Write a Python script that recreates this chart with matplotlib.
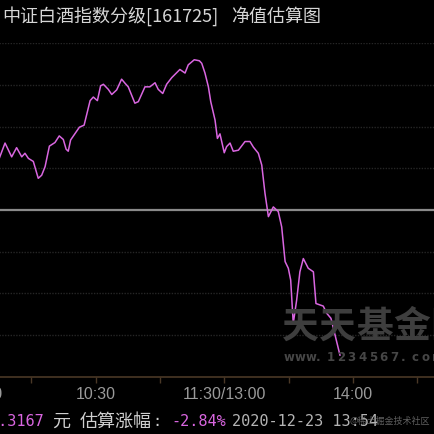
import matplotlib.pyplot as plt
import matplotlib as mpl

mpl.rcParams['font.family'] = ['Noto Sans CJK SC', 'DejaVu Sans']

# estimated change (%) vs trading minutes since 9:30 (lunch break removed)
t_min = [15.0, 17.7, 20.8, 23.1, 25.5, 27.0, 28.6, 30.9, 33.2, 34.8,
         36.4, 38.4, 41.0, 43.0, 44.9, 46.2, 47.2, 48.3, 52.4, 54.6,
         57.4, 58.9, 60.8, 62.3, 63.6, 65.9, 67.5, 69.8, 72.1, 73.7,
         75.2, 78.3, 79.9, 83.0, 85.3, 87.7, 89.2, 91.3, 93.1, 95.5,
         99.3, 101.7, 103.2, 106.0, 108.4, 109.5, 111.0, 112.6, 113.7, 115.7,
         116.8, 118.0, 120.0, 121.1, 122.7, 124.2, 126.6, 129.7, 132.0, 133.6,
         135.9, 137.5, 139.0, 140.6, 142.9, 145.2, 146.8, 148.4, 149.9, 151.0,
         152.2, 153.8, 155.3, 156.9, 159.2, 161.6, 162.8, 166.2, 167.8, 169.8,
         174.0]
pct = [1.01, 1.31, 1.04, 1.22, 1.04, 1.11, 1.01, 0.95, 0.62, 0.68,
       0.85, 1.25, 1.32, 1.45, 1.38, 1.19, 1.15, 1.37, 1.62, 1.66,
       2.14, 2.21, 2.14, 2.43, 2.46, 2.36, 2.26, 2.35, 2.56, 2.48,
       2.41, 2.09, 2.12, 2.41, 2.41, 2.49, 2.36, 2.28, 2.46, 2.59,
       2.75, 2.68, 2.84, 2.94, 2.92, 2.87, 2.68, 2.41, 2.12, 1.76,
       1.40, 1.49, 1.12, 1.24, 1.31, 1.15, 1.17, 1.34, 1.34, 1.23,
       1.11, 0.88, 0.33, -0.13, 0.06, -0.03, -0.33, -1.01, -1.14, -1.37,
       -2.22, -1.76, -1.21, -0.95, -1.14, -1.21, -1.83, -1.88, -2.02, -2.12,
       -2.84]

tick_min = [0, 30, 60, 90, 120, 150, 180, 210, 240]
label_min = [0, 60, 120, 180, 240]
label_txt = ['9:30', '10:30', '11:30/13:00', '14:00', '15:00']
y_max = 3.264
grid_y = [-2.448, -1.632, -0.816, 0.816, 1.632, 2.448, 3.264]

W = H = 434
fig = plt.figure(figsize=(W / 100, H / 100), dpi=100, facecolor='black')
# plot area runs past the left/right edges of the crop
x0, x1 = -32.9, 481.4
ytop, ybot = 43.2, 376.8
px_per_min = (x1 - x0) / 240
px_per_pct = (ybot - ytop) / (2 * y_max)
ax = fig.add_axes([x0 / W, 1 - ybot / H, (x1 - x0) / W, (ybot - ytop) / H])
ax.set_facecolor('black')
ax.set_xlim(0, 240)
ax.set_ylim(-y_max, y_max)

for gy in grid_y:
    ax.axhline(gy, color='#262626', lw=1.0, ls=(0, (1, 1)), zorder=1)
ax.axhline(0, color='#8a8a8a', lw=1.6, zorder=2)

for s in ['top', 'left', 'right']:
    ax.spines[s].set_visible(False)
ax.spines['bottom'].set_color('#4a3826')
ax.spines['bottom'].set_linewidth(1.2)
ax.set_yticks([])
ax.set_xticks(tick_min)
ax.set_xticklabels([])
ax.tick_params(axis='x', direction='out', length=4, width=1.0, color='#4a3826')

label_y = -y_max - 18 / px_per_pct
for m, lab in zip(label_min, label_txt):
    ha, dx = 'center', 0
    if m == 0:
        ha, dx = 'left', 4 / px_per_min
    elif m == 240:
        ha = 'right'
    ax.text(m + dx, label_y, lab, ha=ha, va='center', color='#9a9a9a',
            fontsize=11.5, family='Liberation Sans', clip_on=False)

# watermark behind the line
for i, ch in enumerate('天天基金网'):
    fig.text((282 + i * 37) / W, 1 - 327 / H, ch, color='#3e3e3e',
             fontsize=26.5, fontweight='bold', va='center', ha='left')
for i, ch in enumerate('www.1234567.com'):
    fig.text((284 + i * 10.6) / W, 1 - 357.5 / H, ch, color='#464646',
             fontsize=8.5, fontweight='bold', family='DejaVu Sans',
             va='center', ha='left')

ax.plot(t_min, pct, color='#d966e0', lw=1.1, zorder=5)

# title
fig.text(2 / W, 1 - 16.5 / H, '中证白酒指数分级[161725]',
         color='#d6d6d6', fontsize=13, va='center', ha='left')
fig.text(231 / W, 1 - 16.5 / H, '净值估算图',
         color='#d6d6d6', fontsize=13, va='center', ha='left')

# bottom status line
yb = 1 - 421.5 / H
mono = 'DejaVu Sans Mono'
fig.text(44 / W, yb, '1.3167', color='#d966e0', fontsize=11, family=mono,
         va='center', ha='right')
fig.text(52 / W, yb, '元', color='#cfcfcf', fontsize=13, va='center', ha='left')
fig.text(80 / W, yb, '估算涨幅', color='#cfcfcf', fontsize=13, va='center', ha='left')
fig.text(152 / W, yb, ':', color='#cfcfcf', fontsize=11, family=mono,
         va='center', ha='left')
fig.text(171 / W, yb, '-2.84%', color='#d966e0', fontsize=11, family=mono,
         va='center', ha='left')
fig.text(232 / W, yb, '2020-12-23 13:54', color='#b4b4b4', fontsize=11,
         family=mono, va='center', ha='left')
fig.text(350 / W, yb, '@稀土掘金技术社区', color='#777777', fontsize=6.5,
         va='center', ha='left', alpha=0.8)

fig.savefig('out.png', dpi=100, facecolor='black')
